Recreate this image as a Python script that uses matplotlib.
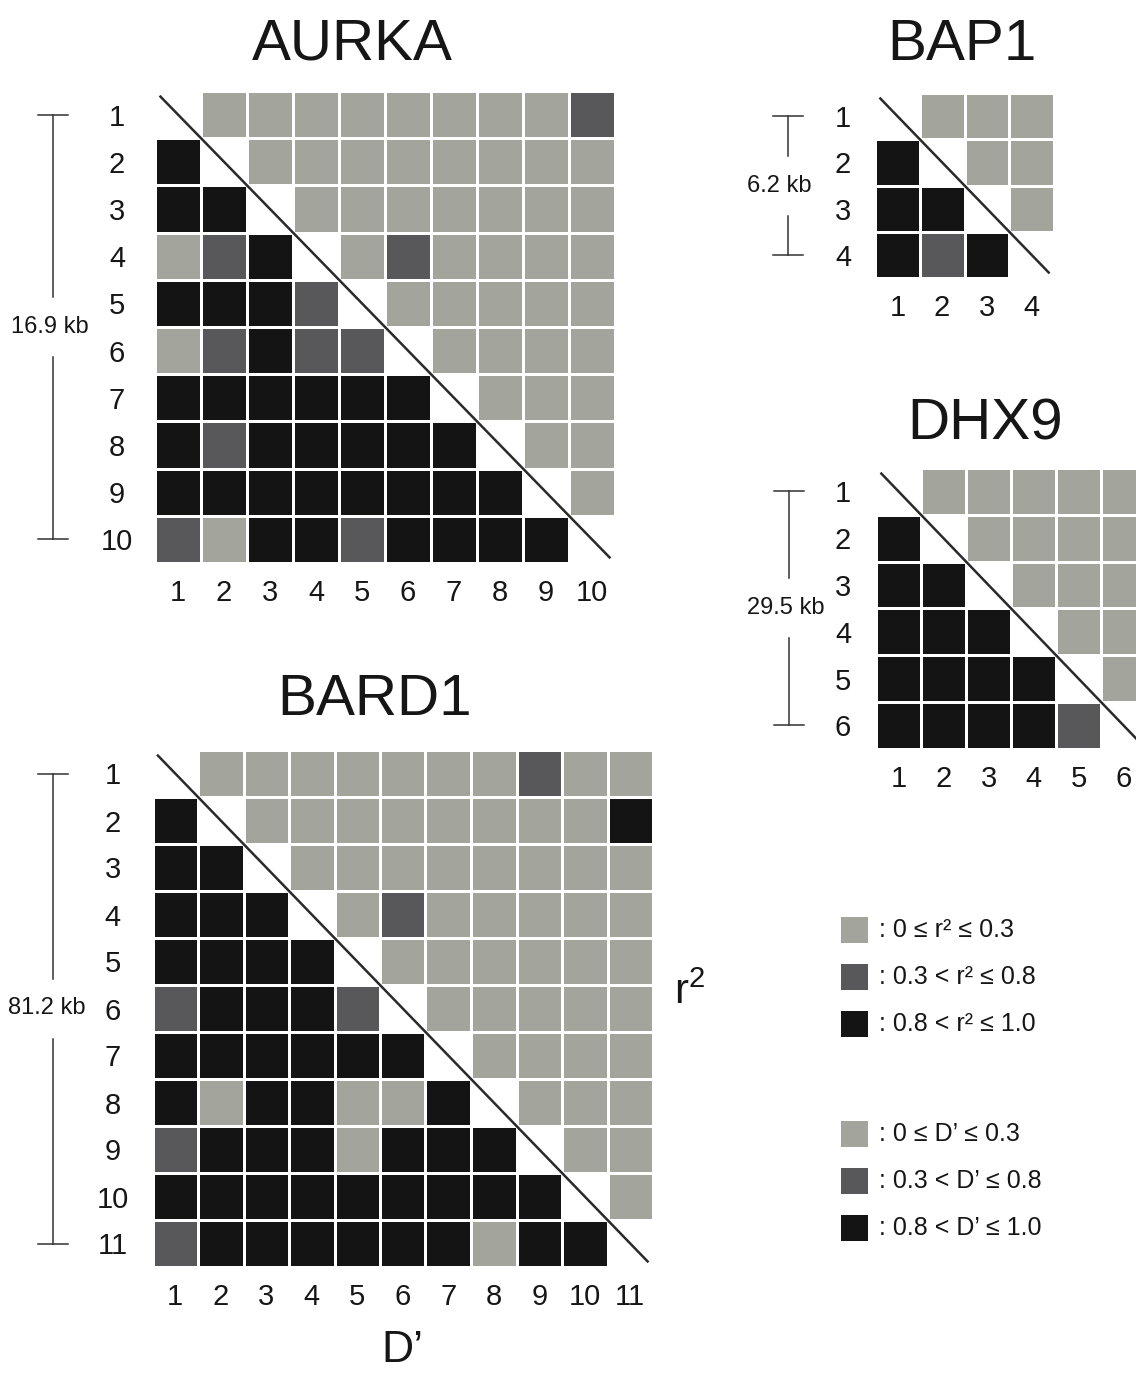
import numpy as np
import matplotlib
matplotlib.use("Agg")
import matplotlib.pyplot as plt
from matplotlib.colors import ListedColormap
from matplotlib.patches import Rectangle

plt.rcParams["font.family"] = ["Liberation Sans", "DejaVu Sans"]
plt.rcParams["mathtext.fontset"] = "custom"
plt.rcParams["mathtext.rm"] = "Liberation Sans"
plt.rcParams["mathtext.it"] = "Liberation Sans"

W, H = 1136, 1373

# LD classes per SNP pair: 0 = diagonal, 1 = low, 2 = medium, 3 = high
# upper triangle is r^2, lower triangle is D'
aurka = [
    [0, 1, 1, 1, 1, 1, 1, 1, 1, 2],
    [3, 0, 1, 1, 1, 1, 1, 1, 1, 1],
    [3, 3, 0, 1, 1, 1, 1, 1, 1, 1],
    [1, 2, 3, 0, 1, 2, 1, 1, 1, 1],
    [3, 3, 3, 2, 0, 1, 1, 1, 1, 1],
    [1, 2, 3, 2, 2, 0, 1, 1, 1, 1],
    [3, 3, 3, 3, 3, 3, 0, 1, 1, 1],
    [3, 2, 3, 3, 3, 3, 3, 0, 1, 1],
    [3, 3, 3, 3, 3, 3, 3, 3, 0, 1],
    [2, 1, 3, 3, 2, 3, 3, 3, 3, 0],
]
bard1 = [
    [0, 1, 1, 1, 1, 1, 1, 1, 2, 1, 1],
    [3, 0, 1, 1, 1, 1, 1, 1, 1, 1, 3],
    [3, 3, 0, 1, 1, 1, 1, 1, 1, 1, 1],
    [3, 3, 3, 0, 1, 2, 1, 1, 1, 1, 1],
    [3, 3, 3, 3, 0, 1, 1, 1, 1, 1, 1],
    [2, 3, 3, 3, 2, 0, 1, 1, 1, 1, 1],
    [3, 3, 3, 3, 3, 3, 0, 1, 1, 1, 1],
    [3, 1, 3, 3, 1, 1, 3, 0, 1, 1, 1],
    [2, 3, 3, 3, 1, 3, 3, 3, 0, 1, 1],
    [3, 3, 3, 3, 3, 3, 3, 3, 3, 0, 1],
    [2, 3, 3, 3, 3, 3, 3, 1, 3, 3, 0],
]
bap1 = [
    [0, 1, 1, 1],
    [3, 0, 1, 1],
    [3, 3, 0, 1],
    [3, 2, 3, 0],
]
dhx9 = [
    [0, 1, 1, 1, 1, 1],
    [3, 0, 1, 1, 1, 1],
    [3, 3, 0, 1, 1, 1],
    [3, 3, 3, 0, 1, 1],
    [3, 3, 3, 3, 0, 1],
    [3, 3, 3, 3, 2, 0],
]
spans = {"AURKA": "16.9 kb", "BARD1": "81.2 kb", "BAP1": "6.2 kb", "DHX9": "29.5 kb"}

r2_labels = [": 0 \u2264 r\u00b2 \u2264 0.3", ": 0.3 < r\u00b2 \u2264 0.8", ": 0.8 < r\u00b2 \u2264 1.0"]
d_labels = [": 0 \u2264 D\u2019 \u2264 0.3", ": 0.3 < D\u2019 \u2264 0.8", ": 0.8 < D\u2019 \u2264 1.0"]

LIGHT, MID, DARK = "#a3a59d", "#58585a", "#141414"
cmap = ListedColormap([LIGHT, MID, DARK])
INK = "#161616"

fig = plt.figure(figsize=(W / 100, H / 100), dpi=100)


def px_axes(x0, y0, w, h):
    return fig.add_axes([x0 / W, 1 - (y0 + h) / H, w / W, h / H])


def ld_panel(name, mat, x0, y0, cw, ch, title_xy, bracket_px, text_px, row_pad):
    n = len(mat)
    ax = px_axes(x0, y0, cw * n, ch * n)
    data = np.ma.masked_equal(np.array(mat), 0) - 1
    edges = np.arange(n + 1)
    ax.pcolormesh(edges, edges, data, cmap=cmap, vmin=-0.5, vmax=2.5,
                  edgecolors="white", linewidth=1.8)
    ax.set_xlim(0, n)
    ax.set_ylim(n, 0)
    for s in ax.spines.values():
        s.set_visible(False)
    ticks = np.arange(n) + 0.5
    labels = [str(i + 1) for i in range(n)]
    ax.set_xticks(ticks, labels)
    ax.set_yticks(ticks, labels)
    ax.tick_params(length=0, labelsize=21, colors=INK)
    ax.tick_params(axis="x", pad=30 * 0.72)
    ax.tick_params(axis="y", pad=row_pad * 0.72)
    for t in ax.get_xticklabels():
        t.set_verticalalignment("center")
    for t in ax.get_yticklabels():
        t.set_horizontalalignment("center")

    # diagonal separating r^2 (upper) from D' (lower)
    ax.plot([0.1, n - 0.1], [0.1, n - 0.1], color="#2a2a2a", lw=1.8,
            clip_on=False, solid_capstyle="butt")

    # physical span bracket
    bx = (bracket_px - x0) / cw
    cap = 15 / cw
    gap = 30 / ch
    mid = n / 2
    kw = dict(color="#333333", lw=1.1, clip_on=False)
    ax.plot([bx, bx], [0.5, mid - gap], **kw)
    ax.plot([bx, bx], [mid + gap, n - 0.5], **kw)
    ax.plot([bx - cap, bx + cap], [0.5, 0.5], **kw)
    ax.plot([bx - cap, bx + cap], [n - 0.5, n - 0.5], **kw)
    ax.text((text_px - x0) / cw, mid, spans[name], ha="center", va="center",
            fontsize=17, color=INK)

    fig.text(title_xy[0] / W, 1 - title_xy[1] / H, name, ha="center",
             va="center", fontsize=42, color=INK)
    return ax


ld_panel("AURKA", aurka, 155, 91, 46, 47.2, (352, 45), 53, 50, 38)
ld_panel("BARD1", bard1, 152.5, 750, 45.5, 47.0, (375, 700), 53, 47, 40)
ld_panel("BAP1", bap1, 875, 93, 44.75, 46.25, (962, 45), 788, 779, 32)
ld_panel("DHX9", dhx9, 876, 468, 45, 46.8, (985, 425), 789, 786, 33)

fig.text(402 / W, 1 - 1350 / H, "D\u2019", ha="center", va="center",
         fontsize=32, color=INK)
fig.text(690 / W, 1 - 993 / H, "r$^2$", ha="center", va="center",
         fontsize=30, color=INK)

# legend: shade swatches for r^2 and D'
shades = [LIGHT, MID, DARK]
rows = [(930, r2_labels), (1134, d_labels)]
for y_start, texts in rows:
    for i, (shade, txt) in enumerate(zip(shades, texts)):
        yc = y_start + i * 47
        fig.add_artist(Rectangle((841 / W, 1 - (yc + 13) / H), 27 / W, 26 / H,
                                 transform=fig.transFigure, facecolor=shade,
                                 edgecolor="none"))
        fig.text(879 / W, 1 - yc / H, txt, ha="left", va="center",
                 fontsize=18, color=INK)

fig.savefig("out.png", dpi=100, facecolor="white")
